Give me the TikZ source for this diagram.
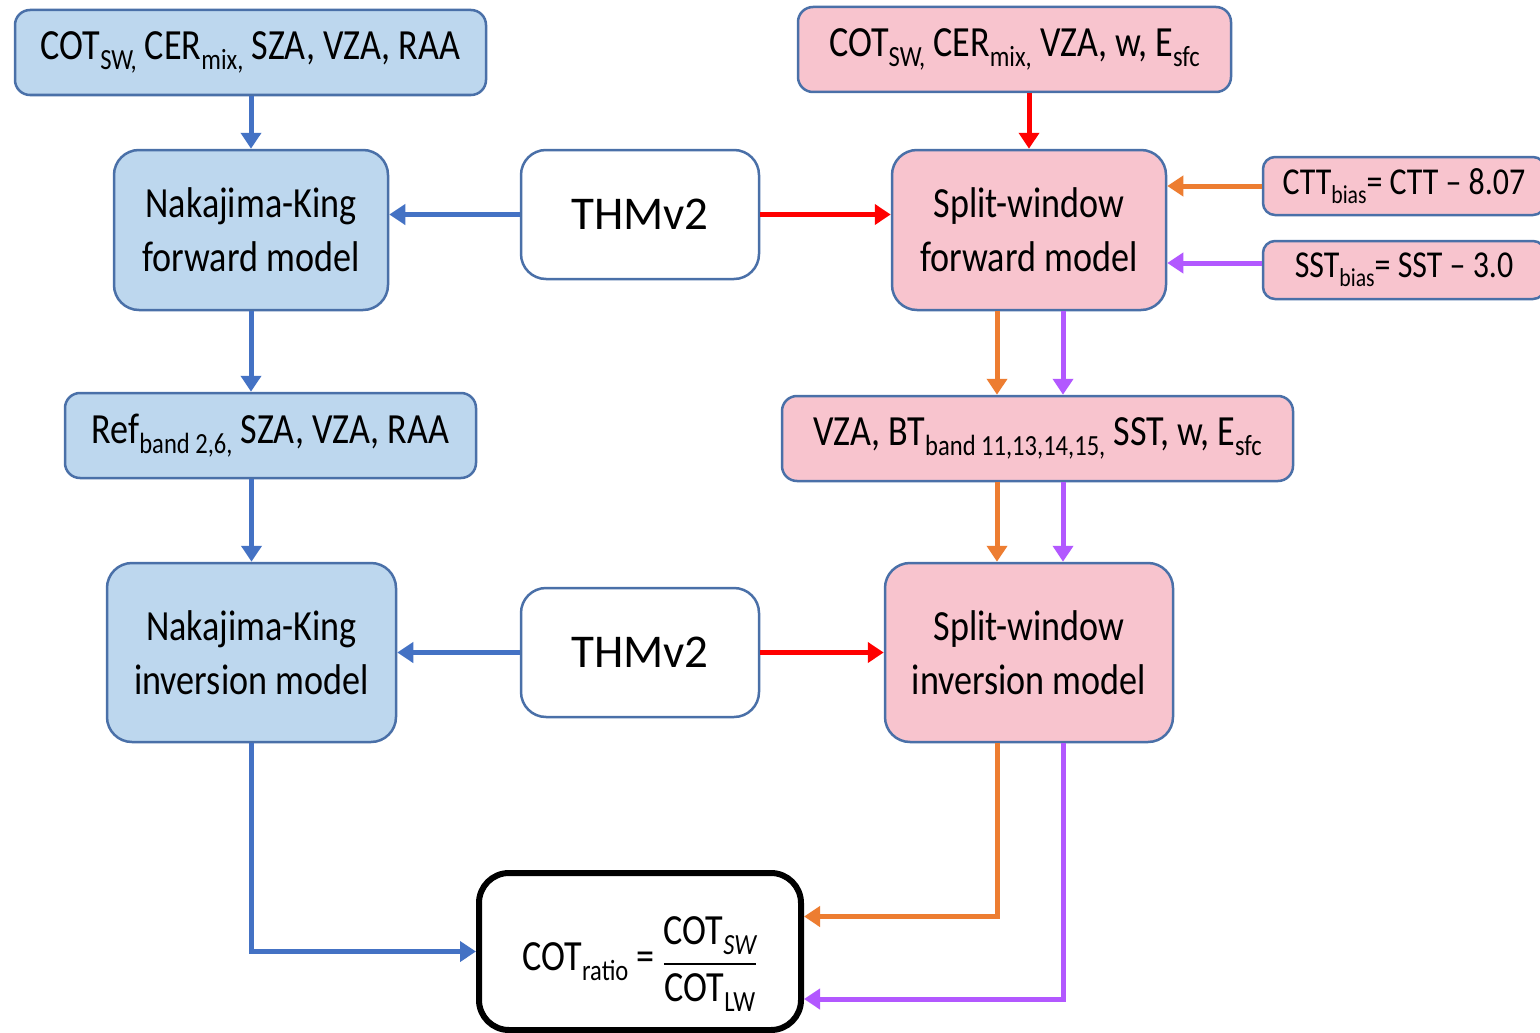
\documentclass[tikz,border=0pt]{standalone}
\usepackage{amsmath}
\usepackage{fontspec}
\setmainfont[FakeStretch=0.84]{Carlito}
\newfontfamily\thmfont{Carlito}
\usetikzlibrary{arrows.meta,calc}
\makeatletter
\newcommand\lo[1]{\raisebox{-0.24em}{\fontsize{\strip@pt\dimexpr0.68\dimexpr\f@size pt\relax\relax}{1}\selectfont #1}}
\makeatother
\definecolor{bfill}{RGB}{189,215,238}
\definecolor{pfill}{RGB}{248,196,206}
\definecolor{bord}{RGB}{74,112,168}
\definecolor{barr}{RGB}{68,114,196}
\definecolor{rarr}{RGB}{255,0,0}
\definecolor{oarr}{RGB}{237,125,49}
\definecolor{parr}{RGB}{178,88,255}
\tikzset{
  box/.style={draw=bord, line width=2.5pt, align=center, inner sep=0pt,
    font=\fontsize{43}{54}\selectfont, text=black},
  bluebox/.style={box, fill=bfill},
  pinkbox/.style={box, fill=pfill},
  whitebox/.style={box, fill=white, rounded corners=25pt, font=\thmfont\fontsize{47}{54}\selectfont},
  smallbox/.style={pinkbox, rounded corners=12pt, font=\fontsize{38}{46}\selectfont},
  conn/.style={line width=5pt, -{Triangle[length=16pt,width=20pt]}},
  bconn/.style={conn, draw=barr},
  rconn/.style={conn, draw=rarr},
  oconn/.style={conn, draw=oarr},
  pconn/.style={conn, draw=parr},
}
\begin{document}
\begin{tikzpicture}[x=1pt,y=-1pt]
\clip (0,0) rectangle (1540,1033);
\fill[white] (0,0) rectangle (1540,1033);
\coordinate (xo) at (997,0);
\coordinate (xp) at (1063,0);
% boxes
\node[bluebox, rounded corners=15pt, minimum width=471pt, minimum height=85pt] (b1) at (250.5,52.5)
  {COT\lo{SW,} CER\lo{mix,} SZA, VZA, RAA};
\node[pinkbox, rounded corners=15pt, minimum width=433pt, minimum height=85pt] (r1) at (1014.5,49.5)
  {COT\lo{SW,} CER\lo{mix,} VZA, w, E\lo{sfc}};
\node[bluebox, rounded corners=25pt, minimum width=274pt, minimum height=160pt] (nkf) at (251,230)
  {Nakajima-King\\forward model};
\node[whitebox, minimum width=238pt, minimum height=129pt] (thm1) at (640,214.5) {THMv2};
\node[pinkbox, rounded corners=25pt, minimum width=274pt, minimum height=160pt] (swf) at (1029,230)
  {Split-window\\forward model};
\node[smallbox, minimum width=282pt, minimum height=58pt] (ctt) at (1404,186)
  {CTT\lo{bias}= CTT -- 8.07};
\node[smallbox, minimum width=282pt, minimum height=58pt] (sst) at (1404,270)
  {SST\lo{bias}= SST -- 3.0};
\node[bluebox, rounded corners=15pt, minimum width=411pt, minimum height=85pt] (ref) at (270.5,435.5)
  {Ref\lo{band 2,6,} SZA, VZA, RAA};
\node[pinkbox, rounded corners=15pt, minimum width=511pt, minimum height=85pt] (vza) at (1037.5,438.5)
  {VZA, BT\lo{band 11,13,14,15,} SST, w, E\lo{sfc}};
\node[bluebox, rounded corners=25pt, minimum width=289pt, minimum height=179pt] (nki) at (251.5,652.5)
  {Nakajima-King\\inversion model};
\node[whitebox, minimum width=238pt, minimum height=129pt] (thm2) at (640,652.5) {THMv2};
\node[pinkbox, rounded corners=25pt, minimum width=288pt, minimum height=179pt] (swi) at (1029,652.5)
  {Split-window\\inversion model};
\node[box, draw=black, line width=6pt, fill=white, rounded corners=30pt, minimum width=322pt, minimum height=157pt] (cot) at (640,951.5)
  {\raisebox{-18.5pt}[0pt][0pt]{COT\lo{ratio} = $\genfrac{}{}{2.5pt}{0}{\mbox{COT\lo{\itshape SW}}\rule[-3pt]{0pt}{1pt}}{\rule{0pt}{29pt}\mbox{COT\lo{LW}}}$}};
% connectors
\draw[bconn] (b1.south -| nkf.north) -- (nkf.north);
\draw[rconn] (r1.south -| swf.north) -- (swf.north);
\draw[bconn] (thm1.west) -- (thm1.west -| nkf.east);
\draw[rconn] (thm1.east) -- (thm1.east -| swf.west);
\draw[oconn] (ctt.west) -- (ctt.west -| swf.east);
\draw[pconn] ([yshift=7pt]sst.west) -- ([yshift=7pt]sst.west -| swf.east);
\draw[oconn] (swf.south -| xo) -- (vza.north -| xo);
\draw[pconn] (swf.south -| xp) -- (vza.north -| xp);
\draw[bconn] (nkf.south) -- (nkf.south |- ref.north);
\draw[bconn] (ref.south -| nki.north) -- (nki.north);
\draw[oconn] (vza.south -| xo) -- (swi.north -| xo);
\draw[pconn] (vza.south -| xp) -- (swi.north -| xp);
\draw[bconn] (thm2.west) -- (thm2.west -| nki.east);
\draw[rconn] (thm2.east) -- (thm2.east -| swi.west);
\draw[bconn] (nki.south) |- (cot.west);
\draw[oconn] (swi.south -| xo) |- ([yshift=35pt]cot.east);
\draw[pconn] (swi.south -| xp) |- ([yshift=-47.5pt]cot.east);
\end{tikzpicture}
\end{document}
